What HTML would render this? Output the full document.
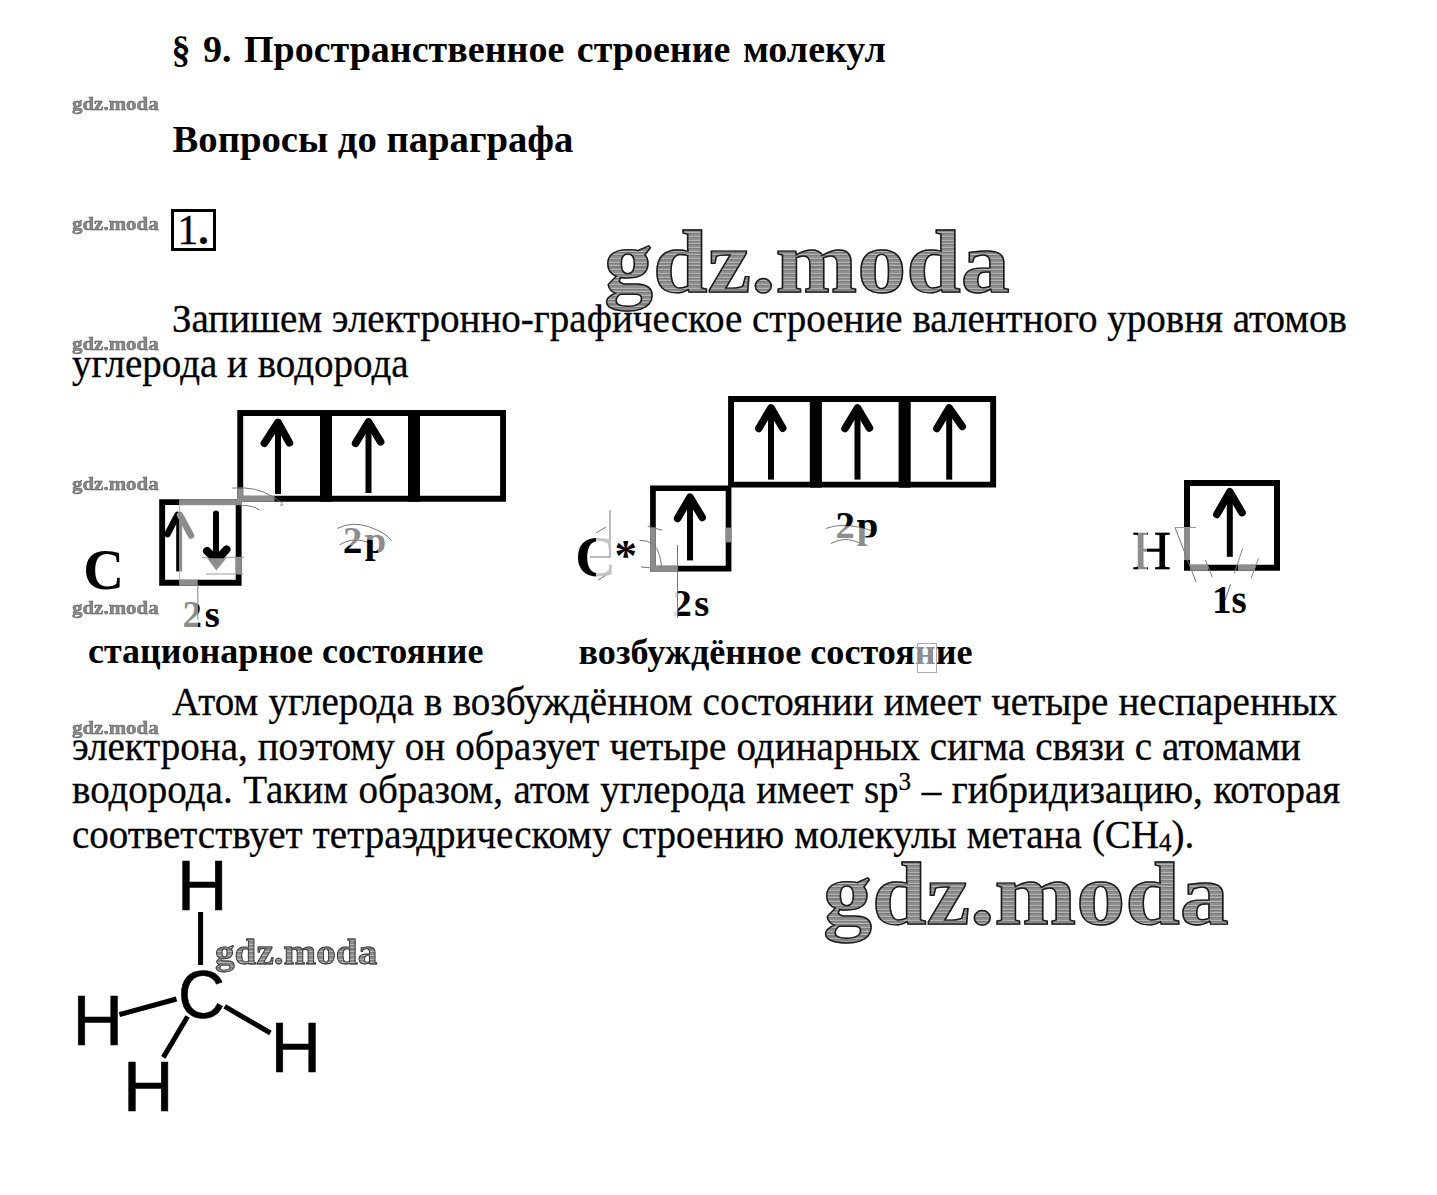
<!DOCTYPE html>
<html><head><meta charset="utf-8">
<style>
html,body{margin:0;padding:0;background:#fff;}
body{width:1437px;height:1195px;position:relative;overflow:hidden;font-family:"Liberation Serif",serif;color:#000;}
.a{position:absolute;white-space:nowrap;line-height:normal;}
.r{-webkit-text-stroke:0.3px #000;}
.wm{position:absolute;white-space:nowrap;font-family:"Liberation Serif",serif;font-weight:bold;line-height:normal;transform-origin:0 0;}
svg{position:absolute;left:0;top:0;}
</style></head><body>
<div class="a" style="left:171.5px;top:27.34px;font-size:38px;font-weight:bold;word-spacing:3px;">§ 9. Пространственное строение молекул</div>
<div class="a" style="left:172.5px;top:117.22px;font-size:38.7px;font-weight:bold;">Вопросы до параграфа</div>
<div class="wm" style="left:72.3px;top:93.21px;font-size:19.4px;-webkit-text-stroke:0.45px #555;letter-spacing:0px;color:#8a8a8a;transform:scaleX(1.08);">gdz.moda</div>
<div class="wm" style="left:72.3px;top:213.21px;font-size:19.4px;-webkit-text-stroke:0.45px #555;letter-spacing:0px;color:#8a8a8a;transform:scaleX(1.08);">gdz.moda</div>
<div class="wm" style="left:72.3px;top:333.21px;font-size:19.4px;-webkit-text-stroke:0.45px #555;letter-spacing:0px;color:#8a8a8a;transform:scaleX(1.08);">gdz.moda</div>
<div class="wm" style="left:72.3px;top:473.21px;font-size:19.4px;-webkit-text-stroke:0.45px #555;letter-spacing:0px;color:#8a8a8a;transform:scaleX(1.08);">gdz.moda</div>
<div class="wm" style="left:72.3px;top:597.21px;font-size:19.4px;-webkit-text-stroke:0.45px #555;letter-spacing:0px;color:#8a8a8a;transform:scaleX(1.08);">gdz.moda</div>
<div class="wm" style="left:72.3px;top:716.71px;font-size:19.4px;-webkit-text-stroke:0.45px #555;letter-spacing:0px;color:#8a8a8a;transform:scaleX(1.08);">gdz.moda</div>
<div style="position:absolute;left:171px;top:209px;width:39px;height:36px;border:3px solid #000;"></div>
<div class="a" style="left:177.5px;top:206.02px;font-size:41.5px;-webkit-text-stroke:0.3px #000;">1<span style="font-weight:bold">.</span></div>
<div class="wm" style="left:603.5px;top:212.29px;font-size:88px;-webkit-text-stroke:1.4px #1a1a1a;letter-spacing:0px;color:#9c9c9c;transform:scaleX(1.114);background:repeating-linear-gradient(180deg,#8f8f8f 0px,#8f8f8f 1.6px,#b4b4b4 1.6px,#b4b4b4 2.6px,#7c7c7c 2.6px,#7c7c7c 3.7px);-webkit-background-clip:text;background-clip:text;-webkit-text-fill-color:transparent;">gdz.moda</div>
<div class="a r" style="left:172.0px;top:295.85px;font-size:39px;">Запишем электронно-графическое строение валентного уровня атомов</div>
<div class="a r" style="left:72.0px;top:340.65px;font-size:39px;">углерода и водорода</div>
<svg width="1437" height="1195" viewBox="0 0 1437 1195">
<path d="M159.2 499.2H241.6V585.7H159.2Z M165.1 505.09999999999997V579.8000000000001H235.7V505.09999999999997Z" fill="#000" fill-rule="evenodd"/>
<path d="M237.3 410H506V501.7H237.3Z M243.20000000000002 415.9V495.8H500.1V415.9Z" fill="#000" fill-rule="evenodd"/>
<rect x="320" y="410" width="12.0" height="91.7" fill="#000"/>
<rect x="408" y="410" width="12.0" height="91.7" fill="#000"/>
<rect x="179.1" y="499.2" width="62.5" height="6.0" fill="#8c8c8c"/>
<rect x="237.3" y="488.4" width="5.9" height="13.3" fill="#8c8c8c"/>
<rect x="237.3" y="496" width="37.2" height="5.7" fill="#8c8c8c"/>
<rect x="179.1" y="579.8" width="18.6" height="5.9" fill="#8c8c8c"/>
<rect x="235.8" y="557.3" width="5.8" height="16.6" fill="#8c8c8c"/>
<path d="M202 557.3L244 557.3" stroke="#999" stroke-width="1" fill="none"/>
<path d="M206 574L243 574" stroke="#999" stroke-width="1" fill="none"/>
<path d="M179.5 505L179.5 580" stroke="#bbb" stroke-width="1" fill="none"/>
<path d="M197.8 585L197.8 620" stroke="#999" stroke-width="1.2" fill="none"/>
<path d="M278 494V428.40000000000003" stroke="#000" stroke-width="6" stroke-linecap="butt" fill="none"/><path d="M264.40000000000003 443.3L278 422.40000000000003L289.4 442.8" stroke="#000" stroke-width="7.6" stroke-linecap="round" stroke-linejoin="round" fill="none"/>
<path d="M368.5 493V428.0" stroke="#000" stroke-width="6" stroke-linecap="butt" fill="none"/><path d="M355.6 443.3L368.5 422.0L380.59999999999997 441.8" stroke="#000" stroke-width="7.6" stroke-linecap="round" stroke-linejoin="round" fill="none"/>
<path d="M177.7 571.4V514" stroke="#000" stroke-width="3" fill="none"/><path d="M180.6 571.4V514" stroke="#8c8c8c" stroke-width="3" fill="none"/><path d="M167.5 534L177.5 515" stroke="#000" stroke-width="6.5" stroke-linecap="round" fill="none"/><path d="M180 515L191 535.5" stroke="#8c8c8c" stroke-width="6.5" stroke-linecap="round" fill="none"/>
<path d="M216 513.5V557" stroke="#000" stroke-width="6" stroke-linecap="round" fill="none"/><path d="M207 551L213 556.5M226.5 549.5L220 556.5" stroke="#000" stroke-width="8" stroke-linecap="round" fill="none"/><path d="M207.2 558.3L226.3 558.3L216.3 570.4Z" fill="#8e8e8e"/>
<path d="M650.1 485.4H731.4V571.5H650.1Z M655.8000000000001 491.09999999999997V565.8H725.6999999999999V491.09999999999997Z" fill="#000" fill-rule="evenodd"/>
<path d="M728.1 396.1H996.1V487.6H728.1Z M734.0 402.0V481.70000000000005H990.2V402.0Z" fill="#000" fill-rule="evenodd"/>
<rect x="809.8" y="396.1" width="12.1" height="91.5" fill="#000"/>
<rect x="898.6" y="396.1" width="12.1" height="91.5" fill="#000"/>
<rect x="650.1" y="527.6" width="5.7" height="38.8" fill="#8c8c8c"/>
<rect x="650.1" y="565.8" width="26.9" height="5.7" fill="#8c8c8c"/>
<rect x="725.7" y="527.6" width="5.7" height="14.7" fill="#8c8c8c"/>
<path d="M677.5 545L677.5 618" stroke="#777" stroke-width="1" fill="none"/>
<path d="M690 560.4V503.2" stroke="#000" stroke-width="6" stroke-linecap="butt" fill="none"/><path d="M677.6 518.4L690 497.2L702.1999999999999 517.4" stroke="#000" stroke-width="7.6" stroke-linecap="round" stroke-linejoin="round" fill="none"/>
<path d="M771 479.6V413.90000000000003" stroke="#000" stroke-width="6" stroke-linecap="butt" fill="none"/><path d="M758.8000000000001 428.40000000000003L771 407.90000000000003L782.6999999999999 428.2" stroke="#000" stroke-width="7.6" stroke-linecap="round" stroke-linejoin="round" fill="none"/>
<path d="M857.5 479.6V413.90000000000003" stroke="#000" stroke-width="6" stroke-linecap="butt" fill="none"/><path d="M845.1 428.40000000000003L857.5 407.90000000000003L869.4 428.0" stroke="#000" stroke-width="7.6" stroke-linecap="round" stroke-linejoin="round" fill="none"/>
<path d="M949.2 479.6V413.90000000000003" stroke="#000" stroke-width="6" stroke-linecap="butt" fill="none"/><path d="M936.9 428.40000000000003L949.2 407.90000000000003L962.1999999999999 426.40000000000003" stroke="#000" stroke-width="7.6" stroke-linecap="round" stroke-linejoin="round" fill="none"/>
<path d="M1184 480H1280V570.7H1184Z M1190 486V564.7H1274V486Z" fill="#000" fill-rule="evenodd"/>
<rect x="1190" y="564.7" width="18.0" height="6.0" fill="#8c8c8c"/>
<rect x="1184" y="527.5" width="6.0" height="32.5" fill="#8c8c8c"/>
<rect x="1238" y="564.7" width="17.0" height="6.0" fill="#8c8c8c"/>
<path d="M1229.8 556.8V497.8" stroke="#000" stroke-width="6" stroke-linecap="butt" fill="none"/><path d="M1216.8999999999999 514.4L1229.8 491.8L1242.0 512.5999999999999" stroke="#000" stroke-width="7.6" stroke-linecap="round" stroke-linejoin="round" fill="none"/>
<path d="M1175 527.5L1196 581.8" stroke="#777" stroke-width="1" fill="none"/>
<path d="M1175 527.5L1196 527.5" stroke="#999" stroke-width="1" fill="none"/>
<path d="M1205.5 560L1212.2 577.2" stroke="#888" stroke-width="1" fill="none"/>
<path d="M1242.7 548.4L1234.3 573.5" stroke="#888" stroke-width="1" fill="none"/>
<path d="M1258.5 558.4L1251 578.5" stroke="#888" stroke-width="1" fill="none"/>
<path d="M1230.6 584.3L1225 600" stroke="#666" stroke-width="1" fill="none"/>
<g fill="none" stroke="#777" stroke-width="1"><path d="M337.4 528.4Q352 521 368.7 526.7T391.7 540.6"/><path d="M339.5 544.8Q351 538 361.8 540.6T368.7 542.7"/><path d="M825.7 528.5Q841 523 858.7 527.1T872.6 532.7"/><path d="M830.9 543.5Q843 537 854.5 541T861.5 544.5"/><path d="M232.2 488.1Q255 486 271.8 496.2T279.9 505"/><path d="M242.3 505.6Q252 505 259.5 510.1"/><path d="M647.7 526.2L662.4 530.3"/><path d="M639.6 540.3Q656 540 659.7 555.7T658.4 566.4"/><path d="M641 567L650.4 567.8"/><path d="M590 557H610M610 510V557M598 580L608 574M596 533L606 527"/></g></svg>
<div class="a" style="left:83.3px;top:538.46px;font-size:56.5px;font-weight:bold;">C</div>
<div class="a" style="left:182.5px;top:591.70px;font-size:38.5px;font-weight:bold;color:#8c8c8c;letter-spacing:3px;">2s</div>
<div class="a" style="left:182.5px;top:591.70px;font-size:38.5px;font-weight:bold;clip-path:polygon(15.5px -1.7px,47.5px -1.7px,47.5px 43.3px,15.5px 43.3px);letter-spacing:3px;">2s</div>
<div class="a" style="left:343.0px;top:517.50px;font-size:38.5px;font-weight:bold;color:#8c8c8c;letter-spacing:2.5px;">2p</div>
<div class="a" style="left:343.0px;top:517.50px;font-size:38.5px;font-weight:bold;clip-path:polygon(-3.0px 28.0px,19.0px 28.0px,19.0px 38.5px,-3.0px 38.5px);letter-spacing:2.5px;">2p</div>
<div class="a" style="left:343.0px;top:517.50px;font-size:38.5px;font-weight:bold;clip-path:polygon(21.0px 21.5px,35.0px 23.5px,35.0px 47.5px,21.0px 47.5px);letter-spacing:2.5px;">2p</div>
<div class="a" style="left:88.0px;top:630.42px;font-size:36px;font-weight:bold;">стационарное состояние</div>
<div class="a" style="left:575.3px;top:525.16px;font-size:56.5px;font-weight:bold;color:#c4c4c4;">C</div>
<div class="a" style="left:575.3px;top:525.16px;font-size:56.5px;font-weight:bold;clip-path:polygon(-5.3px -5.2px,20.7px -5.2px,20.7px 64.8px,-5.3px 64.8px);">C</div>
<div class="a" style="left:614.5px;top:528.90px;font-size:45px;font-weight:bold;">*</div>
<div class="a" style="left:672.5px;top:581.00px;font-size:38.5px;font-weight:bold;color:#dadada;letter-spacing:2.5px;">2s</div>
<div class="a" style="left:672.5px;top:581.00px;font-size:38.5px;font-weight:bold;clip-path:polygon(5.0px -1.0px,47.5px -1.0px,47.5px 44.0px,5.0px 44.0px);letter-spacing:2.5px;">2s</div>
<div class="a" style="left:835.5px;top:503.30px;font-size:38.5px;font-weight:bold;color:#8c8c8c;letter-spacing:2px;">2p</div>
<div class="a" style="left:835.5px;top:503.30px;font-size:38.5px;font-weight:bold;clip-path:polygon(-5.5px -3.3px,49.5px -3.3px,49.5px 33.7px,30.5px 33.7px,30.5px 25.7px,22.5px 23.7px,-5.5px 21.7px);letter-spacing:2px;">2p</div>
<div class="a" style="left:578.5px;top:630.85px;font-size:36.2px;font-weight:bold;">возбуждённое состоя<span style="color:#8c8c8c">н</span>ие</div>
<div style="position:absolute;left:916.5px;top:643px;width:18px;height:28px;border:1px solid #aaa;"></div>
<div class="a" style="left:1132.0px;top:520.29px;font-size:54px;font-weight:bold;color:#8c8c8c;font-weight:normal;-webkit-text-stroke:0.35px currentColor;">H</div>
<div class="a" style="left:1132.0px;top:520.29px;font-size:54px;font-weight:bold;clip-path:polygon(-7.0px -0.3px,6.0px -0.3px,6.0px 59.7px,-7.0px 59.7px);font-weight:normal;-webkit-text-stroke:0.35px currentColor;">H</div>
<div class="a" style="left:1132.0px;top:520.29px;font-size:54px;font-weight:bold;clip-path:polygon(15.0px -0.3px,48.0px -0.3px,48.0px 59.7px,15.0px 59.7px);font-weight:normal;-webkit-text-stroke:0.35px currentColor;">H</div>
<div class="a" style="left:1212.0px;top:577.25px;font-size:39px;font-weight:bold;">1s</div>
<div class="a r" style="left:172.0px;top:678.65px;font-size:39px;word-spacing:0.5px;">Атом углерода в возбуждённом состоянии имеет четыре неспаренных</div>
<div class="a r" style="left:72.0px;top:723.55px;font-size:39px;word-spacing:0.3px;">электрона, поэтому он образует четыре одинарных сигма связи с атомами</div>
<div class="a r" style="left:72.0px;top:766.75px;font-size:39px;word-spacing:0.8px;">водорода. Таким образом, атом углерода имеет sp<span style="font-size:25px;vertical-align:13px;">3</span> – гибридизацию, которая</div>
<div class="a r" style="left:72.0px;top:811.85px;font-size:39px;word-spacing:0.4px;">соответствует тетраэдрическому строению молекулы метана (CH<span style="font-size:25px;vertical-align:-3px;">4</span>).</div>
<div class="wm" style="left:822.5px;top:844.29px;font-size:88px;-webkit-text-stroke:1.4px #1a1a1a;letter-spacing:0px;color:#9c9c9c;transform:scaleX(1.114);background:repeating-linear-gradient(180deg,#8f8f8f 0px,#8f8f8f 1.6px,#b4b4b4 1.6px,#b4b4b4 2.6px,#7c7c7c 2.6px,#7c7c7c 3.7px);-webkit-background-clip:text;background-clip:text;-webkit-text-fill-color:transparent;">gdz.moda</div>
<svg width="1437" height="1195" viewBox="0 0 1437 1195">
<g stroke="#000" stroke-width="5" fill="none"><path d="M200.6 912V965"/><path d="M119.4 1014.6L176.5 999"/><path d="M187.6 1016.5L163.3 1057.4"/><path d="M224.7 1006.4L270.4 1033"/></g></svg>
<div class="a" style="left:178.2px;top:954.61px;font-size:68.5px;font-family:'Liberation Sans',sans-serif;-webkit-text-stroke:0.6px #000;transform:scaleX(0.95);transform-origin:0 0;">C</div>
<div class="a" style="left:177.0px;top:846.45px;font-size:70px;font-family:'Liberation Sans',sans-serif;-webkit-text-stroke:0.6px #000;">H</div>
<div class="a" style="left:72.5px;top:981.45px;font-size:70px;font-family:'Liberation Sans',sans-serif;-webkit-text-stroke:0.6px #000;">H</div>
<div class="a" style="left:123.0px;top:1047.05px;font-size:70px;font-family:'Liberation Sans',sans-serif;-webkit-text-stroke:0.6px #000;">H</div>
<div class="a" style="left:270.5px;top:1007.75px;font-size:70px;font-family:'Liberation Sans',sans-serif;-webkit-text-stroke:0.6px #000;">H</div>
<div class="wm" style="left:214.5px;top:930.87px;font-size:35.5px;-webkit-text-stroke:0.8px #333;letter-spacing:0px;color:#959595;transform:scaleX(1.104);background:repeating-linear-gradient(180deg,#8f8f8f 0px,#8f8f8f 1.6px,#b4b4b4 1.6px,#b4b4b4 2.6px,#7c7c7c 2.6px,#7c7c7c 3.7px);-webkit-background-clip:text;background-clip:text;-webkit-text-fill-color:transparent;">gdz.moda</div>
</body></html>
